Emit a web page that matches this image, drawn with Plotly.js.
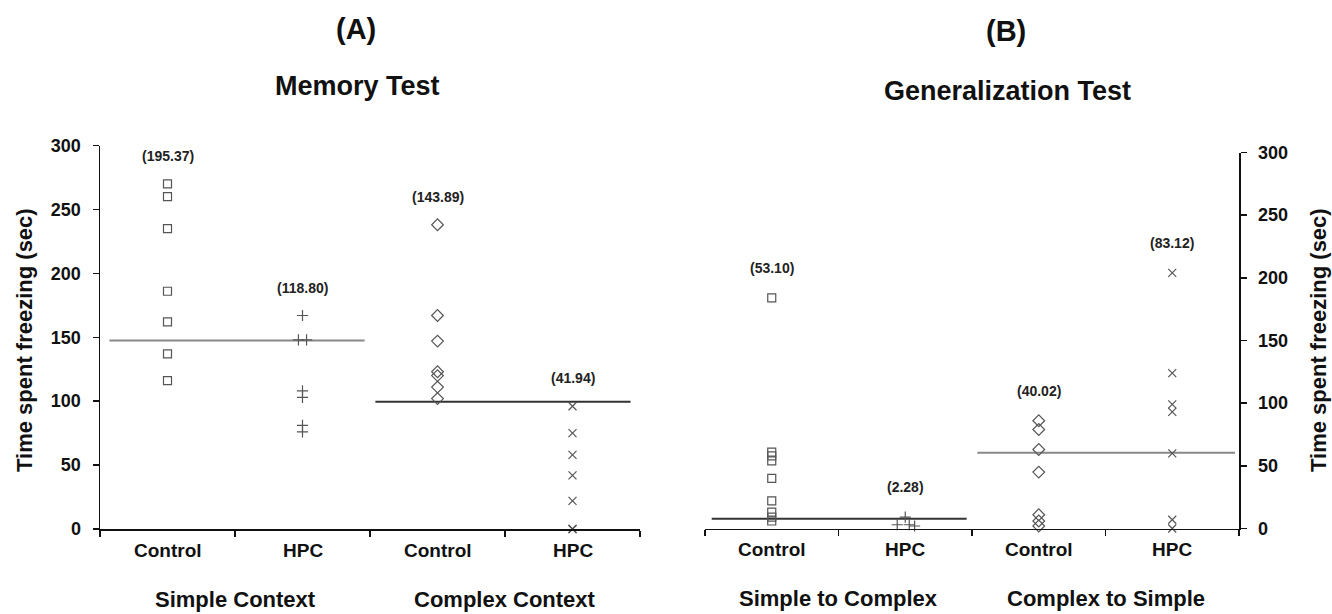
<!DOCTYPE html>
<html>
<head>
<meta charset="utf-8">
<script src="https://cdn.plot.ly/plotly-3.0.1.min.js"></script>
<style>html,body{margin:0;padding:0;background:#fff;}#chart{width:1332px;height:614px;}</style>
</head>
<body>
<div id="chart"></div>
<script>
// ---------- DATA ----------
const groupLabels = ['Control', 'HPC', 'Control', 'HPC'];
const contextLabelsA = ['Simple Context', 'Complex Context'];
const contextLabelsB = ['Simple to Complex', 'Complex to Simple'];
const yTicks = [0, 50, 100, 150, 200, 250, 300];

// Panel A: Memory Test
const memSimpleControl = [270, 260, 235, 186, 162, 137, 116];
const memSimpleHPC = [167, 148, 148, 108, 103, 81, 76];
const memSimpleHPCJitter = [0, -0.03, 0.03, 0, 0, 0, 0];
const memComplexControl = [238, 167, 147, 123, 120, 111, 102];
const memComplexHPC = [96, 75, 58, 42, 22, 0, 0];
const memSD = ['(195.37)', '(118.80)', '(143.89)', '(41.94)'];
const memLines = [147.5, 99.5];

// Panel B: Generalization Test
const genS2CControl = [184, 61, 58, 54, 40, 22, 13, 9, 6];
const genS2CHPC = [9, 3, 3, 2];
const genS2CHPCJitter = [0, -0.06, 0.03, 0.07];
const genC2SControl = [86, 79, 63, 45, 11, 6, 2];
const genC2SHPC = [204, 124, 99, 93, 60, 7, 0];
const genSD = ['(53.10)', '(2.28)', '(40.02)', '(83.12)'];
const genLines = [7.7, 60.5];

// ---------- STYLE ----------
const FONT = 'Liberation Sans, Arial, Helvetica, sans-serif';
const MC = '#555';
const symbols = ['square-open', 'cross-thin-open', 'diamond-open', 'x-thin-open'];
const sizes = [8, 8, 9, 8];

function pointsTrace(vals, idx, xa, ya, jitter) {
  return {
    type: 'scatter', mode: 'markers', xaxis: xa, yaxis: ya, cliponaxis: false,
    x: vals.map((v, i) => idx + 0.5 + (jitter ? jitter[i] : 0)),
    y: vals,
    marker: {symbol: symbols[idx], size: sizes[idx], color: MC, line: {color: MC, width: 1.2}},
    hoverinfo: 'y', showlegend: false
  };
}
function lineTrace(val, g, xa, ya, color, x0, x1) {
  return {
    type: 'scatter', mode: 'lines', xaxis: xa, yaxis: ya, cliponaxis: false,
    x: [g * 2 + x0, g * 2 + x1], y: [val, val],
    line: {color: color, width: 2}, hoverinfo: 'skip', showlegend: false
  };
}

const traces = [
  lineTrace(memLines[0], 0, 'x', 'y', '#888', 0.07, 1.96),
  lineTrace(memLines[1], 1, 'x', 'y', '#333', 0.04, 1.93),
  lineTrace(genLines[0], 0, 'x2', 'y2', '#333', 0.05, 1.96),
  lineTrace(genLines[1], 1, 'x2', 'y2', '#888', 0.04, 1.97),
  pointsTrace(memSimpleControl, 0, 'x', 'y'),
  pointsTrace(memSimpleHPC, 1, 'x', 'y', memSimpleHPCJitter),
  pointsTrace(memComplexControl, 2, 'x', 'y'),
  pointsTrace(memComplexHPC, 3, 'x', 'y'),
  pointsTrace(genS2CControl, 0, 'x2', 'y2'),
  pointsTrace(genS2CHPC, 1, 'x2', 'y2', genS2CHPCJitter),
  pointsTrace(genC2SControl, 2, 'x2', 'y2'),
  pointsTrace(genC2SHPC, 3, 'x2', 'y2')
];

const annotations = [];
function txt(o) { annotations.push(Object.assign({showarrow: false, xanchor: 'center'}, o)); }
const memSets = [memSimpleControl, memSimpleHPC, memComplexControl, memComplexHPC];
const genSets = [genS2CControl, genS2CHPC, genC2SControl, genC2SHPC];
groupLabels.forEach((g, i) => {
  txt({xref: 'x', yref: 'y', x: i + 0.5, y: 0, yshift: -21, yanchor: 'middle', text: g,
       font: {family: FONT, size: 19, weight: 'bold', color: '#111'}});
  txt({xref: 'x2', yref: 'y2', x: i + 0.5, y: 0, yshift: -21, yanchor: 'middle', text: g,
       font: {family: FONT, size: 19, weight: 'bold', color: '#111'}});
  txt({xref: 'x', yref: 'y', x: i + 0.5, y: Math.max(...memSets[i]), yshift: 28, yanchor: 'middle',
       text: memSD[i], font: {family: FONT, size: 14, weight: 'bold', color: '#222'}});
  txt({xref: 'x2', yref: 'y2', x: i + 0.5, y: Math.max(...genSets[i]), yshift: 30, yanchor: 'middle',
       text: genSD[i], font: {family: FONT, size: 14, weight: 'bold', color: '#222'}});
});
contextLabelsA.forEach((c, i) => {
  txt({xref: 'x', yref: 'y', x: i * 2 + 1, y: 0, yshift: -70, yanchor: 'middle', text: c,
       font: {family: FONT, size: 22, weight: 'bold', color: '#111'}});
});
contextLabelsB.forEach((c, i) => {
  txt({xref: 'x2', yref: 'y2', x: i * 2 + 1, y: 0, yshift: -70, yanchor: 'middle', text: c,
       font: {family: FONT, size: 22, weight: 'bold', color: '#111'}});
});
// Panel titles
txt({xref: 'paper', yref: 'paper', x: 356 / 1332, y: 1 - 29 / 614, yanchor: 'middle', text: '(A)',
     font: {family: FONT, size: 29, weight: 'bold', color: '#111'}});
txt({xref: 'paper', yref: 'paper', x: 357 / 1332, y: 1 - 86 / 614, yanchor: 'middle', text: 'Memory Test',
     font: {family: FONT, size: 27, weight: 'bold', color: '#111'}});
txt({xref: 'paper', yref: 'paper', x: 1006 / 1332, y: 1 - 31 / 614, yanchor: 'middle', text: '(B)',
     font: {family: FONT, size: 29, weight: 'bold', color: '#111'}});
txt({xref: 'paper', yref: 'paper', x: 1007 / 1332, y: 1 - 91 / 614, yanchor: 'middle', text: 'Generalization Test',
     font: {family: FONT, size: 27, weight: 'bold', color: '#111'}});
// Axis titles
txt({xref: 'paper', yref: 'paper', x: 24 / 1332, y: 1 - 340 / 614, textangle: -90, yanchor: 'middle',
     text: 'Time spent freezing (sec)', font: {family: FONT, size: 22, weight: 'bold', color: '#111'}});
txt({xref: 'paper', yref: 'paper', x: 1318 / 1332, y: 1 - 340 / 614, textangle: -90, yanchor: 'middle',
     text: 'Time spent freezing (sec)', font: {family: FONT, size: 22, weight: 'bold', color: '#111'}});

const xCommon = {range: [0, 4], tickvals: [0, 1, 2, 3, 4], showticklabels: false, ticks: 'outside', ticklen: 6,
  tickwidth: 1.5, tickcolor: '#111', showline: true, linewidth: 1.5, linecolor: '#111', showgrid: false, zeroline: false, fixedrange: true};
const yCommon = {range: [0, 300], tickvals: yTicks, ticks: 'outside', ticklen: 6, tickwidth: 1.5, tickcolor: '#111',
  showline: true, linewidth: 1.5, linecolor: '#111', showgrid: false, zeroline: false, fixedrange: true,
  ticklabelstandoff: 8, tickfont: {family: FONT, size: 18, weight: 'bold', color: '#111'}};

const layout = {
  width: 1332, height: 614, margin: {l: 0, r: 0, t: 0, b: 0},
  paper_bgcolor: '#fff', plot_bgcolor: '#fff', showlegend: false,
  xaxis: Object.assign({}, xCommon, {domain: [100 / 1332, 640 / 1332], anchor: 'y'}),
  yaxis: Object.assign({}, yCommon, {domain: [85 / 614, 468.5 / 614], anchor: 'x'}),
  xaxis2: Object.assign({}, xCommon, {domain: [705 / 1332, 1239 / 1332], anchor: 'y2'}),
  yaxis2: Object.assign({}, yCommon, {domain: [85.5 / 614, 461.5 / 614], anchor: 'x2', side: 'right'}),
  annotations: annotations
};

Plotly.newPlot('chart', traces, layout, {displayModeBar: false, staticPlot: true});
</script>
</body>
</html>
